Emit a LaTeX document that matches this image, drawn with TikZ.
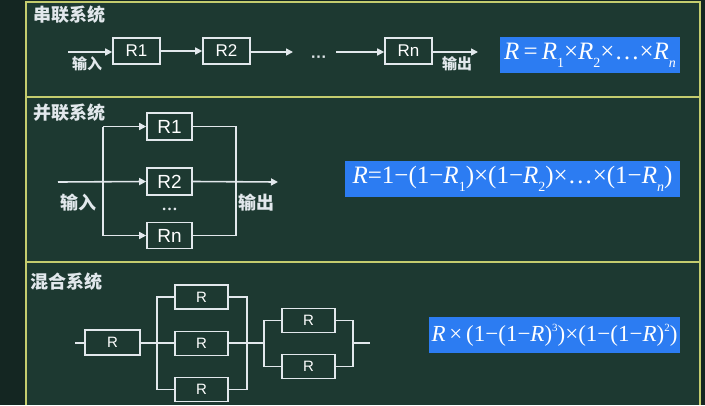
\documentclass[tikz,border=0pt]{standalone}
\usepackage{fontspec}
\setmainfont{Liberation Serif}
\newfontfamily\cjk{Noto Sans CJK SC}
\newfontfamily\arial{Liberation Sans}
\usepackage{xcolor}
\usetikzlibrary{arrows.meta,positioning,calc}
\definecolor{board}{RGB}{29,57,49}
\definecolor{boardedge}{RGB}{20,38,34}
\definecolor{frameline}{RGB}{196,204,110}
\definecolor{chalk}{RGB}{226,232,236}
\definecolor{formulafill}{RGB}{44,124,242}
\newcommand{\Rv}{\textit{R}}
\newcommand{\lowidx}[1]{\raisebox{-0.32em}{\fontsize{14}{14}\selectfont #1}}
\newcommand{\highidx}[1]{\raisebox{0.45em}{\fontsize{11}{11}\selectfont #1}}

\begin{document}
\begin{tikzpicture}[
    x=1pt,y=-1pt,
    >={Triangle[length=7pt,width=7pt]},
    rbox/.style={rectangle,draw=chalk,line width=1.6pt,fill=board,text=white,
                 inner sep=0pt,font=\arial\fontsize{17}{17}\selectfont,
                 minimum width=47pt,minimum height=26pt},
    smallbox/.style={rbox,font=\arial\fontsize{15}{15}\selectfont,
                 minimum width=53pt,minimum height=24pt},
    title/.style={anchor=north west,inner sep=0pt,text=chalk,
                  font=\cjk\bfseries\fontsize{18}{18}\selectfont},
    lbl/.style={inner sep=0pt,text=chalk,font=\cjk\bfseries\fontsize{15}{15}\selectfont},
    formula/.style={rectangle,fill=formulafill,text=white,inner sep=0pt,
                    font=\fontsize{25}{25}\selectfont,minimum height=36pt},
    wire/.style={draw=chalk,line width=1.6pt},
    arr/.style={wire,->},
]

% board and frames
\useasboundingbox (0,0) rectangle (705,405);
\fill[boardedge] (0,0) rectangle (705,405);
\fill[board] (26,2) rectangle (700,405);
\draw[frameline,line width=1.5pt] (26,405) -- (26,2) -- (700,2) -- (700,405);
\draw[frameline,line width=1.5pt] (26,97) -- (700,97);
\draw[frameline,line width=1.5pt] (26,262) -- (700,262);

% series
\node[title] (t1) at (33,6) {串联系统};
\coordinate (in1) at (68,52);
\node[rbox] (s1) at (136.5,51) {R1};
\node[rbox] (s2) at (226.5,51) {R2};
\node[inner sep=1pt,anchor=base,text=chalk,font=\arial\bfseries\fontsize{16}{16}\selectfont] (sdots) at (319,62) {···};
\node[rbox] (sn) at (408.5,51) {Rn};
\coordinate (out1) at (478,52);
\coordinate (sgap) at (293,52);
\draw[arr] (in1) -- (in1 -| s1.west);
\draw[arr] (s1) -- (s2);
\draw[arr] (s2.east |- sgap) -- (sgap);
\draw[arr] ($(sdots.east |- sgap)+(8,0)$) -- (sn.west |- sgap);
\draw[arr] (sn.east |- out1) -- (out1);
\node[lbl] (lin1) at (87,64) {输入};
\node[lbl] (lout1) at (457,64) {输出};
\node[formula,minimum width=180pt] (f1) at (590,55)
  {\Rv\,=\,\Rv\lowidx{1}×\Rv\lowidx{2}×…×\Rv\lowidx{\textit{n}}};

% parallel
\node[title] (t2) at (33,104) {并联系统};
\node[rbox,minimum width=45pt,minimum height=27pt,font=\arial\fontsize{19}{19}\selectfont] (p1) at (169.5,126.5) {R1};
\node[rbox,minimum width=45pt,minimum height=27pt,font=\arial\fontsize{19}{19}\selectfont] (p2) at (169.5,181.5) {R2};
\node[rbox,minimum width=45pt,minimum height=26pt,font=\arial\fontsize{19}{19}\selectfont] (pn) at (169.5,235.5) {Rn};
\node[inner sep=0pt,text=chalk,font=\bfseries\fontsize{16}{16}\selectfont] (pdots) at (169.5,209) {…};
\coordinate (in2) at (58,182);
\coordinate (sl) at (103,182);
\coordinate (sr) at (236,182);
\coordinate (out2) at (278,182);
\draw[wire] (sl |- p1.west) -- (sl |- pn.west);
\draw[arr] (sl |- p1.west) -- (p1.west);
\draw[arr] (sl |- pn.west) -- (pn.west);
\draw[arr] (in2) -- (p2.west);
\draw[wire] (p1.east) -| (sr) |- (pn.east);
\draw[arr] (p2.east) -- (out2);
\node[lbl,font=\cjk\bfseries\fontsize{18}{18}\selectfont] (lin2) at (78,203) {输入};
\node[lbl,font=\cjk\bfseries\fontsize{18}{18}\selectfont] (lout2) at (256,203) {输出};
\node[formula,minimum width=335pt] (f2) at (512.5,178.5)
  {\Rv=1−(1−\Rv\lowidx{1})×(1−\Rv\lowidx{2})×…×(1−\Rv\lowidx{\textit{n}})};

% mixed
\node[title] (t3) at (30,273) {混合系统};
\coordinate (min) at (75,343);
\node[smallbox,minimum width=55pt,minimum height=25pt] (m0) at (112.5,342.5) {R};
\node[smallbox] (a1) at (201.5,297) {R};
\node[smallbox] (a2) at (201.5,343.5) {R};
\node[smallbox] (a3) at (201.5,389.5) {R};
\node[smallbox] (b1) at (308.5,320.5) {R};
\node[smallbox] (b2) at (308.5,366.5) {R};
\coordinate (ja) at (157,343);
\coordinate (jb) at (247,343);
\coordinate (jc) at (264,343);
\coordinate (jd) at (353,343);
\coordinate (mout) at (370,343);
\draw[wire] (min) -- (min -| m0.west);
\draw[wire] (m0.east |- ja) -- (a2.west |- ja);
\draw[wire] (a1.west) -| (ja) |- (a3.west);
\draw[wire] (a1.east) -| (jb) |- (a3.east);
\draw[wire] (a2.east |- jb) -- (jc);
\draw[wire] (b1.west) -| (jc) |- (b2.west);
\draw[wire] (b1.east) -| (jd) |- (b2.east);
\draw[wire] (jd) -- (mout);
\node[formula,minimum width=251pt,font=\fontsize{23}{23}\selectfont] (f3) at (554.5,335)
  {\Rv\,×\,(1−(1−\Rv)\highidx{3})×(1−(1−\Rv)\highidx{2})};

\end{tikzpicture}
\end{document}
